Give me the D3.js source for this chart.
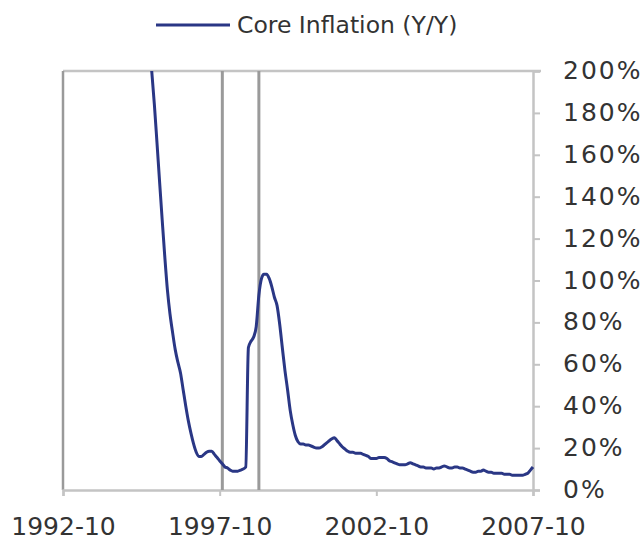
<!DOCTYPE html>
<html>
<head>
<meta charset="utf-8">
<script src="https://cdn.jsdelivr.net/npm/d3@7"></script>
<style>
  body { margin: 0; background: #fff; }
  text { font-family: "DejaVu Sans", sans-serif; fill: #333; }
</style>
</head>
<body>
<div id="chart"></div>
<script>
// series: monthly core inflation (Y/Y, %), first month below
const startMonth = '1995-08';
const coreInflation = [
  200, 184, 166, 147, 129, 111, 95, 84, 75, 67, 61, 56, 48, 40, 33, 27, 22, 18, 16, 16,
  17, 18, 18.5, 18.5, 17, 15.5, 14, 12.5, 11, 10.5, 9.5, 9, 9, 9, 9.5, 10, 11,
  68, 71, 73, 78, 93, 101, 103, 103, 101, 97, 92, 88, 79, 68, 57, 48, 38, 31, 26, 23,
  22, 22, 21.5, 21.5, 21, 20.5, 20, 20, 20.5, 21.5, 22.5, 23.5, 24.5, 25, 23.5, 22,
  20.5, 19.5, 18.5, 18, 18, 17.5, 17.5, 17.5, 17, 16.5, 16, 15, 15, 15, 15.5, 15.5,
  15.5, 15, 14, 13.5, 13, 12.5, 12, 12, 12, 12.5, 13, 12.5, 12, 11.5, 11, 11, 10.5,
  10.5, 10.5, 10, 10.5, 10.5, 11, 11.5, 11, 10.5, 10.5, 11, 11, 10.5, 10.5, 10, 9.5,
  9, 8.5, 8.5, 9, 9, 9.5, 9, 8.5, 8.5, 8, 8, 8, 8, 7.5, 7.5, 7.5, 7, 7, 7, 7, 7, 7.5,
  8, 9.5, 11
];
const seriesName = 'Core Inflation (Y/Y)';
const xTickLabels = ['1992-10', '1997-10', '2002-10', '2007-10'];
const yTicks = [0, 20, 40, 60, 80, 100, 120, 140, 160, 180, 200];
const eventDates = ['1997-11', '1999-01'];

const width = 644;
const height = 544;
const margin = { top: 71, right: 111, bottom: 54, left: 63 };
const parse = d3.timeParse('%Y-%m');
const fmt = d3.timeFormat('%Y-%m');

const start = parse(startMonth);
const data = coreInflation.map((v, i) => ({ date: d3.timeMonth.offset(start, i), value: v }));

const svg = d3.select('#chart')
  .append('svg')
  .attr('width', width)
  .attr('height', height)
  .attr('viewBox', [0, 0, width, height]);

const x = d3.scaleTime()
  .domain([parse(xTickLabels[0]), parse(xTickLabels[xTickLabels.length - 1])])
  .range([margin.left, width - margin.right]);

const y = d3.scaleLinear()
  .domain([0, 200])
  .range([height - margin.bottom, margin.top]);

svg.append('clipPath').attr('id', 'plot')
  .append('rect')
  .attr('x', margin.left)
  .attr('y', margin.top)
  .attr('width', width - margin.left - margin.right + 4)
  .attr('height', height - margin.top - margin.bottom);

// top frame line
svg.append('line')
  .attr('x1', margin.left).attr('x2', width - margin.right + 8)
  .attr('y1', y(200)).attr('y2', y(200))
  .attr('stroke', '#c4c4c4').attr('stroke-width', 2.5);

// left frame line
svg.append('line')
  .attr('x1', margin.left).attr('x2', margin.left)
  .attr('y1', y(200)).attr('y2', y(0))
  .attr('stroke', '#9a9a9a').attr('stroke-width', 2.5);

// x axis
const xAxis = svg.append('g')
  .attr('transform', `translate(0,${y(0)})`)
  .call(d3.axisBottom(x)
    .tickValues(xTickLabels.map(parse))
    .tickFormat(fmt)
    .tickSize(6)
    .tickPadding(21));
xAxis.select('.domain').attr('stroke', '#c4c4c4').attr('stroke-width', 2.5);
xAxis.selectAll('.tick line').attr('stroke', '#c4c4c4').attr('stroke-width', 2);
xAxis.selectAll('.tick text')
  .attr('font-size', 25)
  .attr('font-family', '"DejaVu Sans", sans-serif')
  .attr('fill', '#333');

// right axis
const yAxis = svg.append('g')
  .attr('transform', `translate(${width - margin.right},0)`)
  .call(d3.axisRight(y)
    .tickValues(yTicks)
    .tickFormat(d => d + '%')
    .tickSize(7)
    .tickPadding(23));
yAxis.select('.domain').attr('stroke', '#c4c4c4').attr('stroke-width', 2.5);
yAxis.selectAll('.tick line').attr('stroke', '#c4c4c4').attr('stroke-width', 2);
yAxis.selectAll('.tick text')
  .attr('font-size', 25)
  .attr('font-family', '"DejaVu Sans", sans-serif')
  .attr('letter-spacing', 2)
  .attr('dy', '0.3em')
  .attr('fill', '#333');

// event lines
svg.selectAll('.event')
  .data(eventDates)
  .enter()
  .append('line')
  .attr('class', 'event')
  .attr('x1', d => x(parse(d))).attr('x2', d => x(parse(d)))
  .attr('y1', y(200)).attr('y2', y(0))
  .attr('stroke', '#9a9a9a').attr('stroke-width', 3);

// series line
const line = d3.line()
  .x(d => x(d.date))
  .y(d => y(d.value))
  .curve(d3.curveMonotoneX);

svg.append('path')
  .datum(data)
  .attr('clip-path', 'url(#plot)')
  .attr('fill', 'none')
  .attr('stroke', '#2a3785')
  .attr('stroke-width', 3)
  .attr('stroke-linejoin', 'round')
  .attr('d', line);

// legend
const legend = svg.append('g').attr('transform', 'translate(156,25)');
legend.append('line')
  .attr('x1', 0).attr('x2', 74)
  .attr('stroke', '#2a3785').attr('stroke-width', 3);
legend.append('text')
  .attr('x', 81)
  .attr('dy', '0.35em')
  .attr('font-size', 23.5)
  .attr('font-family', '"DejaVu Sans", sans-serif')
  .text(seriesName);
</script>
</body>
</html>
